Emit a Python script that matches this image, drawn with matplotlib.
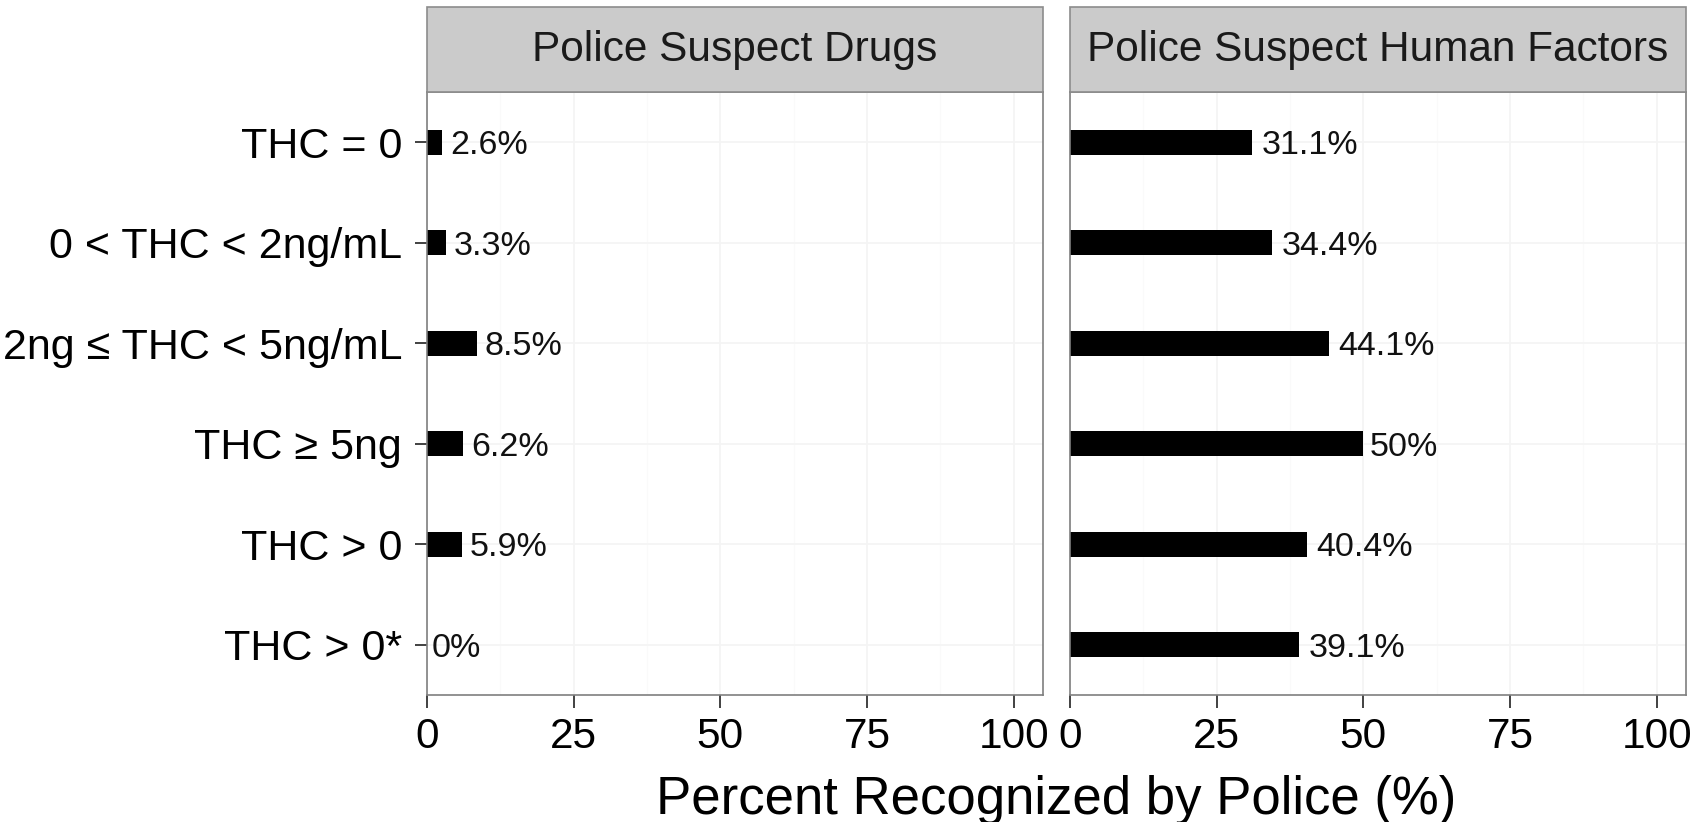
import matplotlib
matplotlib.use("Agg")
import matplotlib.pyplot as plt
from matplotlib.patches import Rectangle
import numpy as np

plt.rcParams['font.family'] = ['Liberation Sans', 'DejaVu Sans']

categories = ["THC = 0", "0 < THC < 2ng/mL", "2ng \u2264 THC < 5ng/mL",
              "THC \u2265 5ng", "THC > 0", "THC > 0*"]
drugs = [2.6, 3.3, 8.5, 6.2, 5.9, 0]
human = [31.1, 34.4, 44.1, 50, 40.4, 39.1]
panel_titles = ["Police Suspect Drugs", "Police Suspect Human Factors"]
xticks = [0, 25, 50, 75, 100]
xlabel = "Percent Recognized by Police (%)"

W, H = 1707, 822
fig = plt.figure(figsize=(W / 100, H / 100), dpi=100)
fig.patch.set_facecolor("white")

panel_top = 92
panel_bot = 695
strip_top = 7
lefts = [427, 1070]
rights = [1043, 1686]

border_col = "#7f7f7f"
axes = []
labels_all = []
ypos = np.arange(len(categories))
for i, (vals, title) in enumerate(zip([drugs, human], panel_titles)):
    x0 = lefts[i] / W
    w = (rights[i] - lefts[i]) / W
    y0 = (H - panel_bot) / H
    h = (panel_bot - panel_top) / H
    ax = fig.add_axes([x0, y0, w, h])
    axes.append(ax)
    ax.set_xlim(0, 105)
    ax.set_ylim(len(categories) - 0.5, -0.5)
    # grid
    for gx in [12.5, 37.5, 62.5, 87.5]:
        ax.axvline(gx, color="#fafafa", lw=0.8, zorder=0)
    for gx in xticks:
        ax.axvline(gx, color="#f4f4f4", lw=1.2, zorder=0)
    for gy in ypos:
        ax.axhline(gy, color="#f4f4f4", lw=1.2, zorder=0)
    ax.barh(ypos, vals, height=0.25, color="black", zorder=2)
    for yv, v in zip(ypos, vals):
        t = ax.annotate(f"{v:g}%", xy=(v, yv), xytext=(0, 0),
                        textcoords="offset pixels", ha="left",
                        va="center_baseline",
                        fontsize=24.5, color="#111111", zorder=3)
        labels_all.append(t)
    for sp in ax.spines.values():
        sp.set_color(border_col)
        sp.set_linewidth(1.2)
    ax.set_xticks(xticks)
    ax.set_xticklabels([str(x) for x in xticks])
    ax.tick_params(axis="x", length=9, width=1.3, color="#333333",
                   labelsize=30.5, pad=7, labelcolor="black")
    if i == 0:
        ax.set_yticks(ypos)
        ax.set_yticklabels(categories)
        ax.tick_params(axis="y", length=9, width=1.3, color="#333333",
                       labelsize=31, pad=9, labelcolor="black")
    else:
        ax.set_yticks([])
    # strip
    sh = (panel_top - strip_top) / (panel_bot - panel_top)
    ax.add_patch(Rectangle((0, 1), 1, sh, transform=ax.transAxes,
                           facecolor="#cbcbcb", edgecolor="#8c8c8c",
                           lw=1.2, clip_on=False, zorder=5))
    ax.text(0.5, 1 + sh / 2, title, transform=ax.transAxes, ha="center",
            va="center", fontsize=30.5, color="#1a1a1a", zorder=6)

fig.text((lefts[0] + rights[1]) / 2 / W, (H - 800) / H, xlabel,
         ha="center", va="center", fontsize=38, color="black")

# hjust = -0.1 style offset for bar labels
fig.canvas.draw()
r = fig.canvas.get_renderer()
for t in labels_all:
    bb = t.get_window_extent(renderer=r)
    t.xyann = (0.1 * bb.width, 0)

fig.savefig("out.png", dpi=100, facecolor="white")
